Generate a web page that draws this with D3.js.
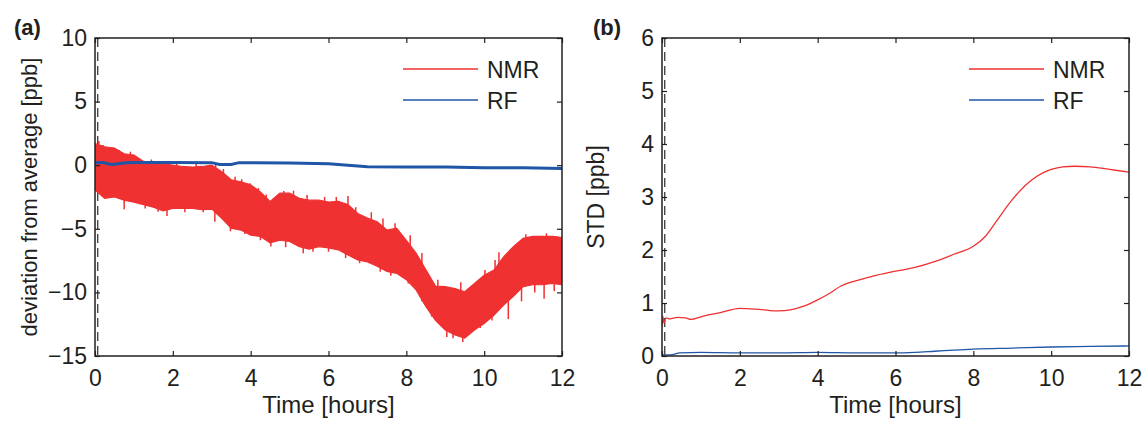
<!DOCTYPE html>
<html>
<head>
<meta charset="utf-8">
<script src="https://cdn.jsdelivr.net/npm/d3@7"></script>
<style>
  html, body { margin: 0; padding: 0; background: #fff; }
  svg { display: block; }
  text { font-family: "Liberation Sans", Arial, Helvetica, sans-serif; fill: #231f20; }
</style>
</head>
<body>
<svg id="fig" width="1145" height="421"></svg>
<script>
// ---- data -------------------------------------------------------------
// common time grid (hours) for the NMR deviation band envelope
const bandTime = [0, 0.25, 0.5, 0.75, 1, 1.25, 1.5, 1.75, 2, 2.25, 2.5, 2.75,
  3, 3.25, 3.5, 3.75, 4, 4.25, 4.5, 4.75, 5, 5.25, 5.5, 5.75,
  6, 6.25, 6.5, 6.75, 7, 7.25, 7.5, 7.75, 8, 8.25, 8.5, 8.75,
  9, 9.25, 9.5, 9.75, 10, 10.25, 10.5, 10.75, 11, 11.25, 11.5, 11.75, 12];
// upper / lower envelope of the NMR deviation [ppb]
const nmrUpper = [1.7, 1.45, 1.35, 0.9, 0.8, 0.3, 0.2, 0.1, 0.0, -0.1, -0.15, -0.1,
  0.0, -0.5, -1.15, -1.3, -1.55, -2.1, -2.85, -2.2, -2.2, -2.6, -2.75, -2.75,
  -2.9, -2.85, -3.1, -3.8, -4.15, -4.45, -5.1, -4.95, -5.9, -6.9, -8.2, -9.5,
  -9.55, -9.7, -9.95, -9.3, -8.65, -8.25, -7.2, -6.4, -5.75, -5.6, -5.6, -5.6, -5.7];
const nmrLower = [-1.95, -2.6, -2.5, -2.75, -2.9, -3.1, -3.3, -3.6, -3.4, -3.4, -3.4, -3.5,
  -3.45, -4.15, -4.95, -5.1, -5.5, -5.6, -6.1, -5.9, -6.0, -6.4, -6.6, -6.4,
  -6.5, -6.65, -7.05, -7.45, -7.6, -7.95, -8.35, -8.5, -9.0, -9.8, -11.1, -12.2,
  -12.95, -13.35, -13.6, -12.95, -12.45, -11.8, -11.0, -10.3, -9.55, -9.4, -9.4, -9.3, -9.4];
// isolated excursions outside the band (time [h], value [ppb])
const spikeTime = [
  0.1, 0.21, 0.39, 0.62, 0.91, 1.1, 1.45, 2.1, 2.6, 3.1, 3.3, 3.6, 3.77, 3.98, 4.2, 4.4,
  4.85, 5.1, 5.45, 5.9, 6.2, 6.5, 6.7, 7.1, 7.4, 7.71, 8.1, 8.4, 8.81, 9.4, 10.02, 10.28,
  10.38, 10.79, 11.07, 11.6, 11.86,
  0.13, 0.75, 1.29, 1.62, 1.85, 2.31, 2.78, 3.08, 3.48, 3.85, 4.25, 4.52, 4.9, 5.35, 5.6,
  6.0, 6.44, 6.8, 7.33, 7.6, 8.05, 8.4, 8.65, 9.04, 9.2, 9.45, 9.9, 10.2, 10.62, 10.96,
  11.3, 11.54, 11.8];
const spikeValue = [
  1.9, 1.59, 1.33, 1.2, 1.06, 0.5, 0.45, 0.25, 0.1, 0.05, -0.3, -0.9, -1.1, -1.42, -1.8, -2.3,
  -2.03, -2.0, -2.35, -2.5, -2.5, -2.42, -3.3, -3.7, -4.2, -4.57, -5.5, -6.9, -9.0, -9.2, -8.24, -7.45,
  -6.85, -6.27, -5.43, -5.36, -5.57,
  -2.08, -3.47, -3.4, -3.65, -4.0, -3.7, -3.7, -4.44, -5.2, -5.4, -5.9, -6.4, -6.45, -6.93, -6.8,
  -6.8, -7.3, -7.7, -8.37, -8.7, -9.3, -10.7, -11.9, -13.5, -13.6, -13.9, -12.8, -12.2, -12.1, -10.7,
  -10.0, -10.5, -9.9];

// RF deviation [ppb]
const rfDevTime = [0, 0.2, 0.35, 0.45, 0.6, 0.8, 1, 2, 3, 3.2, 3.5, 3.7, 4, 5, 6, 6.5, 7, 8, 9, 10, 11, 12];
const rfDevValue = [0.2, 0.22, 0.1, 0.06, 0.12, 0.2, 0.22, 0.22, 0.2, 0.05, 0.05, 0.2, 0.2, 0.18, 0.12, 0.0, -0.12, -0.15, -0.15, -0.2, -0.2, -0.25];

// running standard deviation [ppb]
const nmrStdTime = [0, 0.02, 0.05, 0.1, 0.2, 0.4, 0.6, 0.75, 1, 1.5, 2, 2.5, 3, 3.3, 3.6, 4, 4.3, 4.6, 4.8, 5,
  5.5, 6, 6.5, 7, 7.5, 8, 8.3, 8.6, 9, 9.5, 10, 10.3, 10.6, 11, 11.5, 12];
const nmrStdValue = [0.55, 0.75, 0.62, 0.72, 0.7, 0.73, 0.72, 0.69, 0.74, 0.82, 0.9, 0.88, 0.85, 0.87, 0.93, 1.06, 1.18, 1.32, 1.38, 1.42,
  1.52, 1.6, 1.67, 1.78, 1.92, 2.07, 2.25, 2.55, 2.95, 3.32, 3.52, 3.57, 3.58, 3.57, 3.52, 3.47];
const rfStdTime = [0, 0.15, 0.3, 0.45, 1, 2, 3, 4, 5, 6, 6.5, 7, 7.5, 8, 9, 10, 11, 12];
const rfStdValue = [0.02, 0.02, 0.03, 0.06, 0.07, 0.06, 0.06, 0.07, 0.06, 0.06, 0.07, 0.09, 0.11, 0.13, 0.15, 0.17, 0.18, 0.19];

// reference instant marked by the dashed line [h]
const markerTime = [0.07];

const xTicks = [0, 2, 4, 6, 8, 10, 12];
const yTicksA = [-15, -10, -5, 0, 5, 10];
const yTicksB = [0, 1, 2, 3, 4, 5, 6];
const seriesNames = ["NMR", "RF"];

// ---- styling ----------------------------------------------------------
const RED = "#ef3131";
const BLUE = "#1f56a6";
const AX = "#231f20";

const svg = d3.select("#fig");

function panel(opts) {
  const { left, right, top, bottom, yDomain, yTicks, label, ylabel, ylabelSize } = opts;
  const x = d3.scaleLinear().domain([0, 12]).range([left, right]);
  const y = d3.scaleLinear().domain(yDomain).range([bottom, top]);
  const g = svg.append("g");

  const clipId = "clip-" + label.replace(/\W/g, "");
  svg.append("clipPath").attr("id", clipId)
    .append("rect").attr("x", left).attr("y", top)
    .attr("width", right - left).attr("height", bottom - top);
  const plot = g.append("g").attr("clip-path", `url(#${clipId})`);

  // dashed marker
  plot.selectAll("line.marker").data(markerTime).join("line")
    .attr("class", "marker")
    .attr("x1", d => x(d)).attr("x2", d => x(d))
    .attr("y1", top).attr("y2", bottom)
    .attr("stroke", "#3a3a3a").attr("stroke-width", 1.3)
    .attr("stroke-dasharray", "9,5");

  // axes with inward ticks on all sides
  const fmt = d => (d < 0 ? "\u2212" + Math.abs(d) : String(d));
  const axB = g.append("g").attr("transform", `translate(0,${bottom})`)
    .call(d3.axisBottom(x).tickValues(xTicks).tickSize(-5).tickPadding(14).tickFormat(fmt));
  const axT = g.append("g").attr("transform", `translate(0,${top})`)
    .call(d3.axisTop(x).tickValues(xTicks).tickSize(-5).tickFormat(""));
  const axL = g.append("g").attr("transform", `translate(${left},0)`)
    .call(d3.axisLeft(y).tickValues(yTicks).tickSize(-5).tickPadding(8).tickFormat(fmt));
  const axR = g.append("g").attr("transform", `translate(${right},0)`)
    .call(d3.axisRight(y).tickValues(yTicks).tickSize(-5).tickFormat(""));
  [axB, axT, axL, axR].forEach(a => {
    a.select(".domain").remove();
    a.selectAll(".tick line").attr("stroke", AX).attr("stroke-width", 1.2);
    a.selectAll(".tick text").attr("font-size", 23).attr("fill", AX)
      .attr("font-family", '"Liberation Sans", Arial, sans-serif');
  });

  g.append("text").attr("x", (left + right) / 2).attr("y", 413)
    .attr("text-anchor", "middle").attr("font-size", 24).text("Time [hours]");
  g.append("text")
    .attr("transform", `translate(${left - 58},${(top + bottom) / 2}) rotate(-90)`)
    .attr("text-anchor", "middle").attr("font-size", ylabelSize).text(ylabel);
  g.append("text").attr("x", opts.labelX).attr("y", 35)
    .attr("font-size", 22).attr("font-weight", "bold").text(label);

  return { x, y, g, plot, left, right, top, bottom };
}

function legend(p, x0) {
  const rows = [{ name: seriesNames[0], color: RED, y: 69 }, { name: seriesNames[1], color: BLUE, y: 100 }];
  rows.forEach(r => {
    p.g.append("line").attr("x1", x0).attr("x2", x0 + 75).attr("y1", r.y).attr("y2", r.y)
      .attr("stroke", r.color).attr("stroke-width", 1.3);
    p.g.append("text").attr("x", x0 + 84).attr("y", r.y + 9).attr("font-size", 23).text(r.name);
  });
}

// ---- panel (a): deviation from average --------------------------------
const pa = panel({
  left: 95, right: 562, top: 38, bottom: 356,
  yDomain: [-15, 10], yTicks: yTicksA, label: "(a)", labelX: 14,
  ylabel: "deviation from average [ppb]", ylabelSize: 22
});

const band = bandTime.map((t, i) => ({ t, lo: nmrLower[i], hi: nmrUpper[i] }));
pa.plot.append("path").datum(band)
  .attr("d", d3.area().x(d => pa.x(d.t)).y0(d => pa.y(d.lo)).y1(d => pa.y(d.hi)).curve(d3.curveLinear))
  .attr("fill", RED).attr("stroke", RED).attr("stroke-width", 1.2);

const hiAt = d3.scaleLinear().domain(bandTime).range(nmrUpper);
const loAt = d3.scaleLinear().domain(bandTime).range(nmrLower);
pa.plot.selectAll("line.spike").data(spikeTime.map((t, i) => ({ t, v: spikeValue[i] }))).join("line")
  .attr("class", "spike")
  .attr("x1", d => pa.x(d.t)).attr("x2", d => pa.x(d.t))
  .attr("y1", d => pa.y(d.v))
  .attr("y2", d => pa.y((hiAt(d.t) + loAt(d.t)) / 2))
  .attr("stroke", RED).attr("stroke-width", 1.5);

pa.plot.append("path").datum(rfDevTime.map((t, i) => [t, rfDevValue[i]]))
  .attr("d", d3.line().x(d => pa.x(d[0])).y(d => pa.y(d[1])))
  .attr("fill", "none").attr("stroke", BLUE).attr("stroke-width", 3);

// ---- panel (b): standard deviation ------------------------------------
const pb = panel({
  left: 662, right: 1129, top: 38, bottom: 356,
  yDomain: [0, 6], yTicks: yTicksB, label: "(b)", labelX: 593,
  ylabel: "STD [ppb]", ylabelSize: 23
});

pb.plot.append("path").datum(nmrStdTime.map((t, i) => [t, nmrStdValue[i]]))
  .attr("d", d3.line().x(d => pb.x(d[0])).y(d => pb.y(d[1])).curve(d3.curveMonotoneX))
  .attr("fill", "none").attr("stroke", RED).attr("stroke-width", 1.3);
pb.plot.append("path").datum(rfStdTime.map((t, i) => [t, rfStdValue[i]]))
  .attr("d", d3.line().x(d => pb.x(d[0])).y(d => pb.y(d[1])).curve(d3.curveMonotoneX))
  .attr("fill", "none").attr("stroke", BLUE).attr("stroke-width", 1.3);

// frames on top of the data
[pa, pb].forEach(p => {
  p.g.append("rect").attr("x", p.left).attr("y", p.top)
    .attr("width", p.right - p.left).attr("height", p.bottom - p.top)
    .attr("fill", "none").attr("stroke", AX).attr("stroke-width", 1.5);
});

legend(pa, 403);
legend(pb, 969);
</script>
</body>
</html>
